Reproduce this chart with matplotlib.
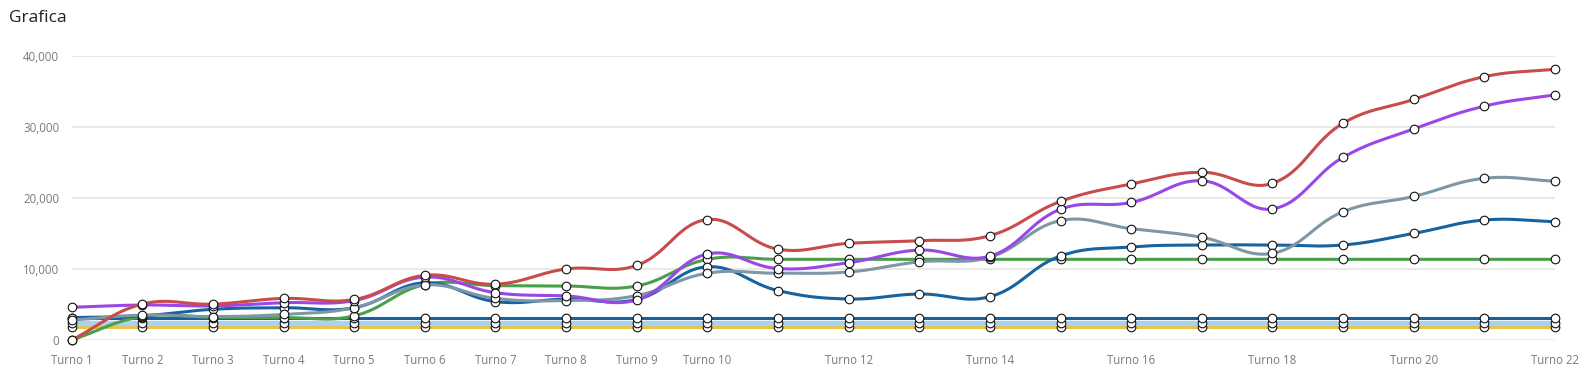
import numpy as np
import matplotlib.pyplot as plt
from matplotlib.ticker import FuncFormatter

turni = [f'Turno {i}' for i in range(1, 23)]
shown_ticks = [1, 2, 3, 4, 5, 6, 7, 8, 9, 10, 12, 14, 16, 18, 20, 22]

red = [0, 5050, 5050, 5850, 5700, 9100, 7850, 9990, 10500, 16950, 12780,
       13600, 13980, 14680, 19500, 21950, 23600, 22050, 30500, 33850, 37050, 38100]
purple = [4600, 4920, 4800, 5250, 5550, 8850, 6650, 6200, 5650, 12100, 10050,
          10880, 12650, 11800, 18400, 19350, 22400, 18450, 25700, 29700, 32900, 34500]
gray = [2800, 3500, 3300, 3600, 4550, 7750, 5850, 5550, 6250, 9400, 9400,
        9570, 11000, 11650, 16800, 15670, 14450, 12200, 18050, 20200, 22750, 22350]
dark_blue = [3150, 3400, 4320, 4540, 4540, 8050, 5400, 5750, 5700, 10300, 6950,
             5770, 6470, 6100, 11820, 13090, 13370, 13370, 13370, 15000, 16880, 16650]
green = [0, 3300, 3200, 3150, 3400, 7800, 7650, 7600, 7600, 11350, 11350,
         11350, 11350, 11350, 11350, 11350, 11350, 11350, 11350, 11350, 11350, 11350]
blue_flat = [3050] * 22
light_blue = [2420] * 22
yellow = [1780] * 22

# drawn bottom-up, last one ends on top
series = [
    (yellow, '#efc243', 2.2),
    (light_blue, '#a9d1f2', 3.8),
    (blue_flat, '#15629f', 2.2),
    (green, '#4b9e4b', 2.2),
    (dark_blue, '#16639f', 2.2),
    (gray, '#7e97a7', 2.2),
    (purple, '#9a47e8', 2.2),
    (red, '#c94b4b', 2.2),
]

# pixel size of one x step / one y unit, used so the spline behaves like chart.js
X_PX = 70.63
Y_PX = 1 / 140.7


def spline(xs, ys, tension=0.4, n=30):
    px = np.asarray(xs, float) * X_PX
    py = np.asarray(ys, float) * Y_PX
    m = len(px)
    cp1 = np.zeros((m, 2))
    cp2 = np.zeros((m, 2))
    for i in range(m):
        p0 = np.array([px[max(i - 1, 0)], py[max(i - 1, 0)]])
        p1 = np.array([px[i], py[i]])
        p2 = np.array([px[min(i + 1, m - 1)], py[min(i + 1, m - 1)]])
        d01 = np.hypot(*(p1 - p0))
        d12 = np.hypot(*(p2 - p1))
        tot = d01 + d12
        s01 = d01 / tot if tot else 0
        s12 = d12 / tot if tot else 0
        cp1[i] = p1 - tension * s01 * (p2 - p0)
        cp2[i] = p1 + tension * s12 * (p2 - p0)
    t = np.linspace(0, 1, n)[:, None]
    out = []
    for i in range(m - 1):
        a = np.array([px[i], py[i]])
        d = np.array([px[i + 1], py[i + 1]])
        b, c = cp2[i], cp1[i + 1]
        seg = (1 - t) ** 3 * a + 3 * (1 - t) ** 2 * t * b + 3 * (1 - t) * t ** 2 * c + t ** 3 * d
        out.append(seg if i == 0 else seg[1:])
    out = np.vstack(out)
    return out[:, 0] / X_PX, out[:, 1] / Y_PX


fig = plt.figure(figsize=(15.89, 3.78), dpi=100)
ax = fig.add_axes([71.7 / 1589, 38 / 378, (1555 - 71.7) / 1589, (340 - 55.7) / 378])

x = np.arange(len(turni))
for k, (vals, color, lw) in enumerate(series):
    sx, sy = spline(x, vals)
    ax.plot(sx, sy, color=color, lw=lw, zorder=3 + 2 * k, clip_on=False,
            solid_capstyle='round')
    ax.plot(x, vals, 'o', ms=6.2, mfc='white', mec='#111111', mew=0.8,
            zorder=4 + 2 * k, clip_on=False)

ax.set_xlim(0, 21)
ax.set_ylim(0, 40000)
ax.set_yticks(np.arange(0, 40001, 10000))
ax.yaxis.set_major_formatter(FuncFormatter(lambda v, p: f'{int(v):,}'))
ax.set_xticks([i - 1 for i in shown_ticks])
ax.set_xticklabels([turni[i - 1] for i in shown_ticks])
ax.grid(axis='y', color='#e5e5e5', lw=1.2)
ax.set_axisbelow(True)
for s in ax.spines.values():
    s.set_visible(False)
ax.tick_params(axis='both', length=0, labelsize=8.3, labelcolor='#7a7a7a')
ax.tick_params(axis='y', pad=9)
ax.tick_params(axis='x', pad=10)
for lab in ax.get_xticklabels() + ax.get_yticklabels():
    lab.set_fontfamily('Open Sans')

fig.text(9 / 1589, 1 - 18 / 378, 'Grafica', fontsize=12.5, color='#222222',
         family='Open Sans', va='center', ha='left')

fig.savefig('out.png', dpi=100, facecolor='white')
